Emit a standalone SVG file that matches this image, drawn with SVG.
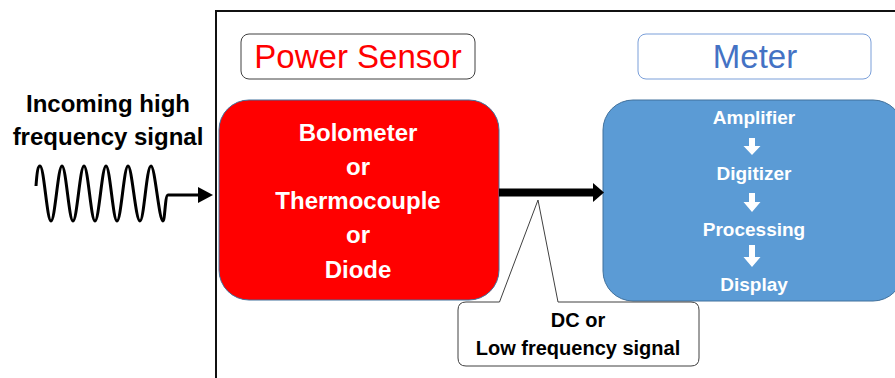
<svg xmlns="http://www.w3.org/2000/svg" width="895" height="378" viewBox="0 0 895 378">
<style>
.t{font-family:"Liberation Sans",Arial,sans-serif;font-weight:bold;text-anchor:middle}
.w{fill:#fff}
.k{fill:#000}
.lbl{font-family:"Liberation Sans",Arial,sans-serif;font-size:33px;text-anchor:middle}
</style>
<rect width="895" height="378" fill="#fff"/>
<g id="frame"><path d="M216,378 V11 H895" fill="none" stroke="#111" stroke-width="2"/></g>
<g id="incoming">
<text class="t k" x="108" y="112" font-size="24">Incoming high</text>
<text class="t k" x="108" y="145" font-size="24">frequency signal</text>
<path d="M36,186 C37,172 38,166 40,166 C44,166 47,221 51,221 C55,221 58,166 62,166 C66,166 69,221 73,221 C77,221 80,166 84,166 C88,166 91,221 95,221 C99,221 102,166 106,166 C110,166 113,221 117,221 C121,221 124,166 128,166 C132,166 135.5,221 140,221 C144,221 146.5,166 151,166 C155,166 159,221 163,221 C165,221 165,195 168,195 H200" fill="none" stroke="#000" stroke-width="3"/>
<polygon points="198,187 213,195 198,203" fill="#000"/>
</g>
<g id="power-sensor-label">
<rect x="241" y="34" width="234" height="45" rx="8" fill="#fff" stroke="#404040" stroke-width="1"/>
<text class="lbl" x="358" y="68" fill="#ff0000">Power Sensor</text>
</g>
<g id="meter-label">
<rect x="638" y="34" width="233" height="45" rx="8" fill="#fff" stroke="#7a9fd9" stroke-width="1"/>
<text class="lbl" x="755" y="68" fill="#4472c4">Meter</text>
</g>
<g id="power-sensor">
<rect x="219" y="100" width="280" height="200" rx="30" fill="#ff0000" stroke="#41719c" stroke-width="1"/>
<text class="t w" x="358" y="141" font-size="24">Bolometer</text>
<text class="t w" x="358" y="175" font-size="24">or</text>
<text class="t w" x="358" y="209" font-size="24">Thermocouple</text>
<text class="t w" x="358" y="243" font-size="24">or</text>
<text class="t w" x="358" y="278" font-size="24">Diode</text>
</g>
<g id="meter">
<rect x="603" y="100" width="300" height="201" rx="30" fill="#5b9bd5" stroke="#41719c" stroke-width="1"/>
<text class="t w" x="754" y="124" font-size="19">Amplifier</text>
<text class="t w" x="754" y="180" font-size="19">Digitizer</text>
<text class="t w" x="754" y="236" font-size="19">Processing</text>
<text class="t w" x="754" y="291" font-size="19">Display</text>
<polygon points="749,138 755,138 755,146 760.5,146 752,155 743.5,146 749,146" fill="#fff"/>
<polygon points="749,193 755,193 755,202 760.5,202 752,212 743.5,202 749,202" fill="#fff"/>
<polygon points="749,245 755,245 755,257 760.5,257 752,267 743.5,257 749,257" fill="#fff"/>
</g>
<g id="connectors">
<rect x="499" y="188.5" width="95" height="8" fill="#000"/>
<polygon points="593,183 604,192.5 593,202" fill="#000"/>
</g>
<g id="dc-callout">
<path d="M466,302 H499.5 L538,200 L558,302 H691 Q699,302 699,310 V358 Q699,366 691,366 H466 Q458,366 458,358 V310 Q458,302 466,302 Z" fill="#fff" stroke="#404040" stroke-width="1"/>
<text class="t k" x="578" y="327" font-size="20">DC or</text>
<text class="t k" x="578" y="355" font-size="20">Low frequency signal</text>
</g>
</svg>
